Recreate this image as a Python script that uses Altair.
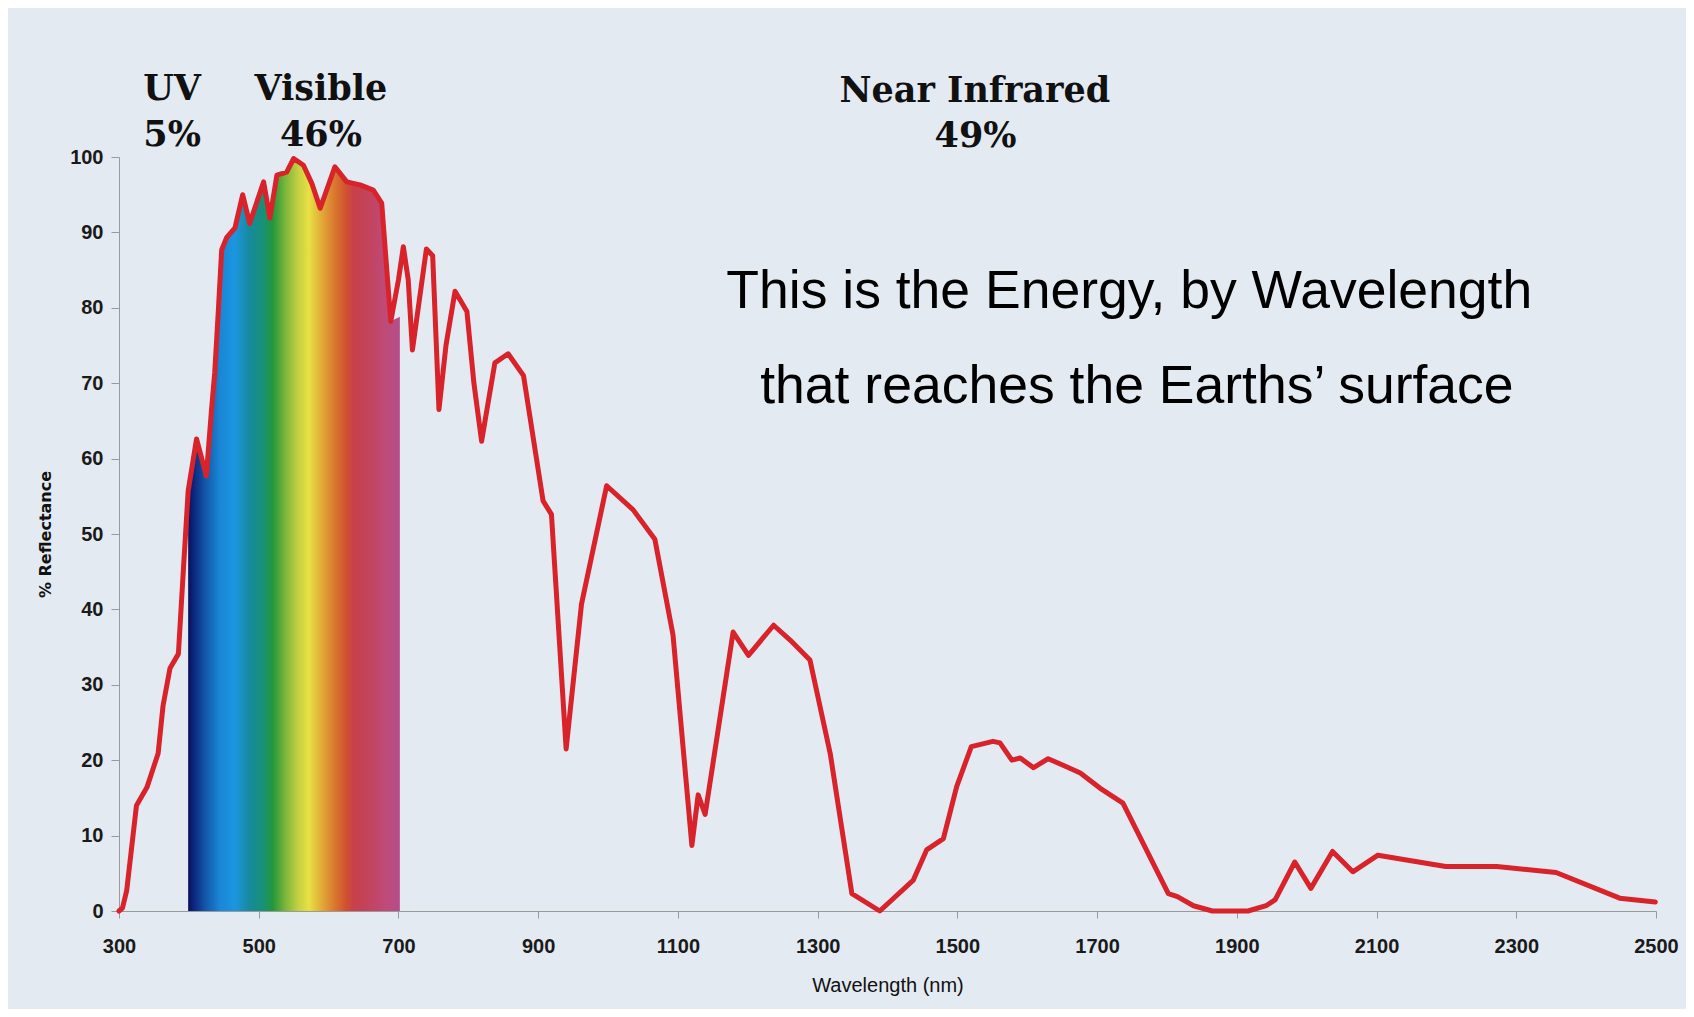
import altair as alt
import pandas as pd

# Solar energy curve (wavelength nm, % value)
WAVELENGTH = [300, 305, 311, 325, 340, 356, 363, 373, 385, 392, 399, 411, 425, 432, 437,
              442, 447, 454, 466, 477, 487, 507, 516, 526, 540, 550, 564, 576, 588, 609,
              626, 645, 664, 676, 683, 689, 700, 707, 714, 720, 740, 749, 758, 768, 781,
              798, 808, 819, 838, 857, 879, 907, 919, 940, 962, 998, 1036, 1067, 1093,
              1120, 1129, 1139, 1179, 1201, 1237, 1261, 1289, 1318, 1349, 1389, 1437,
              1456, 1480, 1499, 1520, 1551, 1561, 1578, 1590, 1609, 1630, 1657, 1676,
              1704, 1737, 1802, 1815, 1838, 1865, 1916, 1942, 1955, 1983, 2006, 2037,
              2066, 2102, 2199, 2272, 2357, 2448, 2499]
ENERGY = [0, 0.4, 2.7, 14.0, 16.4, 20.9, 27.2, 32.2, 34.1, 45.0, 55.7, 62.6, 57.7, 66.0, 71.4,
          79.3, 87.7, 89.3, 90.6, 95.0, 91.2, 96.7, 91.9, 97.6, 98.0, 99.8, 98.9, 96.5, 93.2, 98.7,
          96.7, 96.3, 95.6, 93.9, 85.4, 78.2, 83.7, 88.1, 83.7, 74.4, 87.8, 86.9, 66.5, 75.0, 82.2,
          79.5, 70.0, 62.3, 72.7, 73.9, 71.0, 54.4, 52.6, 21.5, 40.7, 56.4, 53.2, 49.3, 36.6,
          8.7, 15.4, 12.8, 37.0, 33.9, 37.9, 35.9, 33.3, 20.9, 2.3, 0.0, 4.1,
          8.1, 9.6, 16.5, 21.8, 22.5, 22.3, 20.0, 20.3, 19.0, 20.2, 19.1, 18.3,
          16.3, 14.3, 2.3, 1.9, 0.7, 0.0, 0.0, 0.7, 1.5, 6.5, 3.0, 7.9,
          5.2, 7.4, 5.9, 5.9, 5.1, 1.7, 1.2]

# Visible band (rainbow fill) limits
VIS_START = 399
VIS_LAST_CURVE = 689
VIS_END_WL = 702
VIS_END_VAL = 78.8

SPECTRUM_OFFSETS = [0.0, 0.03, 0.08, 0.15, 0.22, 0.29, 0.35, 0.40, 0.46, 0.52, 0.57,
                    0.63, 0.69, 0.745, 0.78, 0.86, 0.93, 1.0]
SPECTRUM_COLORS = ["#0b0f5c", "#0c2a80", "#1356a8", "#1a86d6", "#1c96e0", "#178a9c",
                   "#16907a", "#24973c", "#7cb63a", "#c4d042", "#e8e043", "#e2ab38",
                   "#d9792f", "#d0522f", "#c8404a", "#c2445e", "#bf4a78", "#b44e8a"]

BAND_LABELS = ["UV", "5%", "Visible", "46%", "Near Infrared", "49%"]
BAND_X = [376, 376, 589, 589, 1525, 1526]
BAND_Y = [107.5, 101.5, 107.5, 101.5, 107.3, 101.3]

NOTE_LINES = ["This is the Energy, by Wavelength", "that reaches the Earths\u2019 surface"]
NOTE_X = [1746, 1757]
NOTE_Y = [80.0, 67.4]

X_TICKS = [300, 500, 700, 900, 1100, 1300, 1500, 1700, 1900, 2100, 2300, 2500]
Y_TICKS = [0, 10, 20, 30, 40, 50, 60, 70, 80, 90, 100]

curve = pd.DataFrame({"wl": WAVELENGTH, "val": ENERGY})
vis = curve[(curve.wl >= VIS_START) & (curve.wl <= VIS_LAST_CURVE)]
vis = pd.concat([vis, pd.DataFrame({"wl": [VIS_END_WL], "val": [VIS_END_VAL]})], ignore_index=True)
bands = pd.DataFrame({"label": BAND_LABELS, "x": BAND_X, "y": BAND_Y})
notes = pd.DataFrame({"label": NOTE_LINES, "x": NOTE_X, "y": NOTE_Y})

xscale = alt.Scale(domain=[300, 2500], nice=False, zero=False)
yscale = alt.Scale(domain=[0, 100], nice=False)

x_axis = alt.Axis(values=X_TICKS, format="d", grid=False, labelFont="Liberation Sans",
                  labelFontSize=20, labelFontWeight="bold", labelColor="#1a1a1a",
                  domainColor="#9a9a9a", tickColor="#9a9a9a", tickSize=7, labelPadding=18,
                  labelFlush=False, title="Wavelength (nm)", titleFont="Liberation Sans",
                  titleFontSize=20, titleFontWeight="normal", titleColor="#111111",
                  titleY=74, titleBaseline="middle")
y_axis = alt.Axis(values=Y_TICKS, format="d", grid=False, labelFont="Liberation Sans",
                  labelFontSize=20, labelFontWeight="bold", labelColor="#1a1a1a",
                  domainColor="#9a9a9a", tickColor="#9a9a9a", tickSize=8, labelPadding=8,
                  labelFlush=False, title="% Reflectance", titleFont="DejaVu Sans",
                  titleFontSize=16, titleFontWeight="bold", titleColor="#111111",
                  titleAngle=270, titleX=-74, titleY=377, titleAlign="center",
                  titleBaseline="middle")

gradient = alt.Gradient(
    gradient="linear",
    stops=[alt.GradientStop(color=c, offset=o) for c, o in zip(SPECTRUM_COLORS, SPECTRUM_OFFSETS)],
    x1=0, x2=1, y1=0, y2=0,
)

fill = alt.Chart(vis).mark_area(color=gradient, interpolate="linear").encode(
    x=alt.X("wl:Q", scale=xscale, axis=x_axis),
    y=alt.Y("val:Q", scale=yscale, axis=y_axis),
)

line = alt.Chart(curve).mark_line(color="#d8232a", strokeWidth=5, interpolate="linear",
                                  strokeCap="round", strokeJoin="round").encode(
    x=alt.X("wl:Q", scale=xscale),
    y=alt.Y("val:Q", scale=yscale),
)

band_text = alt.Chart(bands).mark_text(font="DejaVu Serif", fontWeight="bold", fontSize=35,
                                       color="#111111", align="center",
                                       baseline="alphabetic").encode(
    x=alt.X("x:Q", scale=xscale),
    y=alt.Y("y:Q", scale=yscale),
    text="label:N",
)

note_text = alt.Chart(notes).mark_text(font="Liberation Sans", fontSize=53.5, color="#000000",
                                       align="center", baseline="alphabetic").encode(
    x=alt.X("x:Q", scale=xscale),
    y=alt.Y("y:Q", scale=yscale),
    text="label:N",
)

chart = alt.layer(fill, line, band_text, note_text).properties(
    width=1537, height=754,
    autosize=alt.AutoSizeParams(type="none"),
    padding={"left": 111, "top": 149, "right": 30, "bottom": 98},
).configure(background="#e4eaf2").configure_view(strokeWidth=0)

chart.save("out.html", embed_options={"renderer": "svg", "actions": False})
